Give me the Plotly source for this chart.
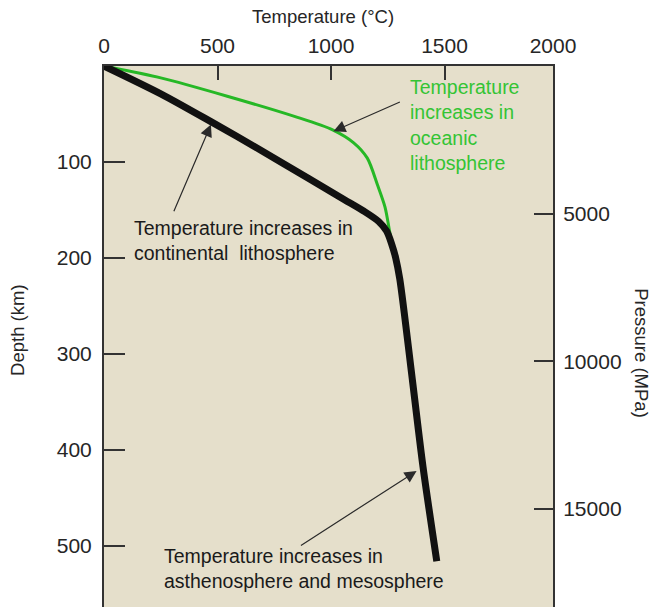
import plotly.graph_objects as go

# ---- data ----
cont_temp = [0, 250, 471, 700, 900, 1050, 1150, 1210, 1245, 1268, 1285, 1303, 1360, 1405, 1466]
cont_depth = [0, 29, 58, 89, 117, 138, 152, 162, 172, 186, 200, 222, 330, 417, 516]

ocean_temp = [0, 250, 543, 839, 1007, 1100, 1160, 1205, 1238, 1258, 1270]
ocean_depth = [0, 12.4, 31.5, 52.5, 66.5, 80, 96, 124, 147, 172, 188]

temp_ticks = [0, 500, 1000, 1500, 2000]
depth_ticks = [100, 200, 300, 400, 500]
pressure_ticks = [5000, 10000, 15000]

T_MAX = 1978
D_MAX = 563.7
P_MAX = 18320

FONT = "Arial, Liberation Sans, sans-serif"
AX = "#333333"
TXT = "#262626"
GREEN_LINE = "rgb(38,184,38)"
GREEN_TXT = "rgb(52,196,52)"

fig = go.Figure()
fig.add_trace(go.Scatter(x=ocean_temp, y=ocean_depth, mode="lines",
                         line=dict(color=GREEN_LINE, width=3, shape="spline", smoothing=0.8),
                         showlegend=False, hoverinfo="skip"))
fig.add_trace(go.Scatter(x=cont_temp, y=cont_depth, mode="lines",
                         line=dict(color="#111111", width=7, shape="spline", smoothing=0.8),
                         showlegend=False, hoverinfo="skip"))
fig.add_trace(go.Scatter(x=[], y=[], yaxis="y2", showlegend=False, hoverinfo="skip"))

tick_vals_x = temp_ticks[:-1] + [T_MAX]
tick_text_x = [str(v) for v in temp_ticks]

fig.update_layout(
    width=651, height=607,
    margin=dict(l=104, r=98, t=66, b=0),
    paper_bgcolor="white",
    plot_bgcolor="#e5dfcb",
    font=dict(family=FONT, color=TXT),
    showlegend=False,
    xaxis=dict(side="top", range=[0, T_MAX], tickvals=tick_vals_x, ticktext=tick_text_x,
               ticks="inside", ticklen=14, tickwidth=2, tickcolor=AX,
               showline=True, linecolor=AX, linewidth=2, showgrid=False, zeroline=False,
               tickfont=dict(size=21, color=TXT), ticklabelstandoff=3),
    yaxis=dict(range=[D_MAX, 0], tickvals=depth_ticks,
               ticks="inside", ticklen=21, tickwidth=2, tickcolor=AX,
               showline=True, linecolor=AX, linewidth=2, showgrid=False, zeroline=False,
               tickfont=dict(size=21, color=TXT), ticklabelstandoff=6),
    yaxis2=dict(overlaying="y", side="right", range=[P_MAX, 0], tickvals=pressure_ticks,
                ticktext=[str(v) for v in pressure_ticks],
                ticks="inside", ticklen=19, tickwidth=2, tickcolor=AX,
                showline=True, linecolor=AX, linewidth=2, showgrid=False, zeroline=False,
                tickfont=dict(size=21, color=TXT), ticklabelstandoff=4),
)

annotations = [
    # axis titles
    dict(text="Temperature (°C)", xref="paper", yref="paper", x=0.488, y=1.0906,
         showarrow=False, font=dict(size=18.5, color=TXT), xanchor="center", yanchor="middle"),
    dict(text="Depth (km)", xref="paper", yref="paper", x=-0.194, y=0.512, textangle=-90,
         showarrow=False, font=dict(size=18.5, color=TXT), xanchor="center", yanchor="middle"),
    dict(text="Pressure (MPa)", xref="paper", yref="paper", x=1.1976, y=0.4695, textangle=90,
         showarrow=False, font=dict(size=18.5, color=TXT), xanchor="center", yanchor="middle"),
    # labels
    dict(text="Temperature<br>increases in<br>oceanic<br>lithosphere", xref="x", yref="y",
         x=1340, y=61, xanchor="left", yanchor="middle", align="left", showarrow=False,
         font=dict(size=19.5, color=GREEN_TXT)),
    dict(text="Temperature increases in<br>continental  lithosphere", xref="x", yref="y",
         x=124, y=181.4, xanchor="left", yanchor="middle", align="left", showarrow=False,
         font=dict(size=19.5, color="#1a1a1a")),
    dict(text="Temperature increases in<br>asthenosphere and mesosphere", xref="x", yref="y",
         x=257, y=524, xanchor="left", yanchor="middle", align="left", showarrow=False,
         font=dict(size=19.5, color="#1a1a1a")),
    # arrows
    dict(x=471, y=61, ax=305, ay=153, xref="x", yref="y", axref="x", ayref="y", text="",
         showarrow=True, arrowhead=2, arrowsize=2, arrowwidth=1.2, arrowcolor="#2a2a2a"),
    dict(x=1011, y=68, ax=1310, ay=36.8, xref="x", yref="y", axref="x", ayref="y", text="",
         showarrow=True, arrowhead=2, arrowsize=2, arrowwidth=1.2, arrowcolor="#2a2a2a"),
    dict(x=1377, y=422, ax=861, ay=500.5, xref="x", yref="y", axref="x", ayref="y", text="",
         showarrow=True, arrowhead=2, arrowsize=2, arrowwidth=1.2, arrowcolor="#2a2a2a"),
]
fig.update_layout(annotations=annotations)

fig.write_html("out.html")
